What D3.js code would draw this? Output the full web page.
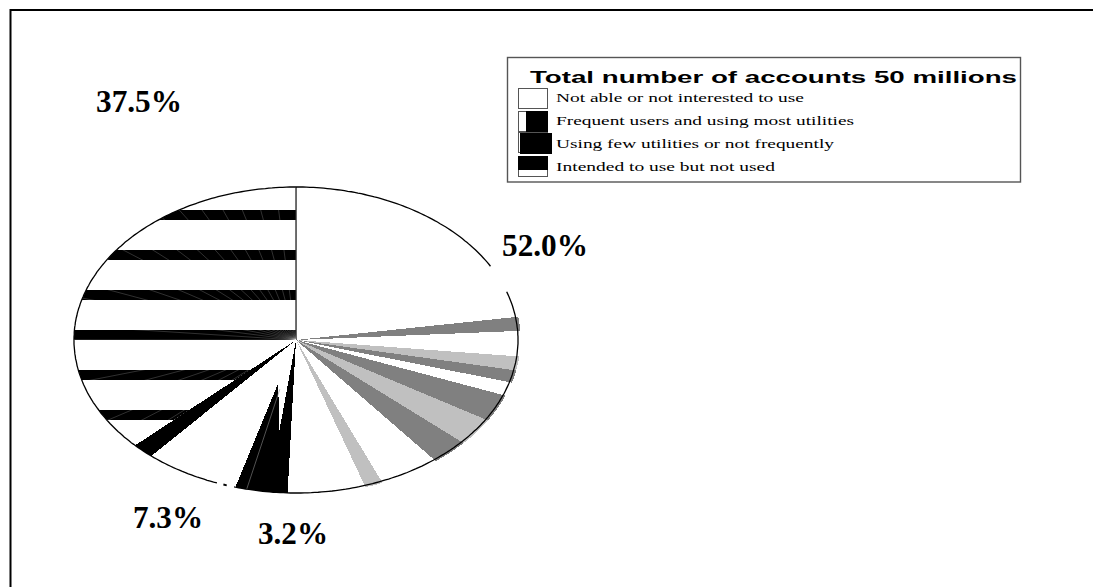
<!DOCTYPE html>
<html>
<head>
<meta charset="utf-8">
<script src="https://cdn.jsdelivr.net/npm/d3@7/dist/d3.min.js"></script>
<style>html,body{margin:0;padding:0;background:#fff}svg{display:block}</style>
</head>
<body>
<div id="chart"></div>
<script>
// Printed labels and the angular share each slice visibly takes in the picture
const sliceNames = ["Not able or not interested to use", "Using few utilities or not frequently", "Intended to use but not used", "Frequent users and using most utilities"];
const sliceLabels = ["52.0%", "3.2%", "7.3%", "37.5%"];
const sliceShares = [50.6, 3.8, 8.5, 37.1];
const stripeShare = 1.6;
// Shaded wedges inside the largest slice (percent of the circle, clockwise from 12 o'clock)
const bandStart = [22.6, 26.7, 28.15, 30.85, 33.7, 36.6, 43.7];
const bandEnd   = [24.05, 28.15, 29.45, 33.7, 36.6, 39.3, 45.0];
const bandTone  = ["dark", "light", "dark", "dark", "light", "dark", "light"];
// Notch inside the black slice: percent round the circle, fraction of the radius
const notchPercent = [52.0, 54.5];
const notchRadius  = [0.606, 0.286];
const hairlinePercent = 53.56;
const outlineStart = [0, 19.9, 55.8];
const outlineEnd   = [17.0, 54.5, 100];
const legendTitle = "Total number of accounts 50 millions";
const legendItems = ["Not able or not interested to use", "Frequent users and using most utilities", "Using few utilities or not frequently", "Intended to use but not used"];

const W = 1102, H = 587;
const svg = d3.select("#chart").append("svg").attr("width", W).attr("height", H);
const cx = 296, cy = 340, rx = 222, ry = 153;

// page frame: top and left rules only
svg.append("path").attr("d", `M10.5 ${H}V10H1093`).attr("fill", "none").attr("stroke", "#000").attr("stroke-width", 2);

const angle = d3.scaleLinear().domain([0, 100]).range([0, 2 * Math.PI]);
const tone = d3.scaleOrdinal().domain(["dark", "light"]).range(["#808080", "#c0c0c0"]);
const pieLayout = d3.pie().sort(null).value(d => d)(sliceShares);
const arc = d3.arc().innerRadius(0).outerRadius(1);
const unit = `translate(${cx},${cy}) scale(${rx},${ry})`;

const defs = svg.append("defs");
defs.append("clipPath").attr("id", "hatchClip").append("path")
  .attr("transform", unit).attr("d", arc(pieLayout[3]));

const pie = svg.append("g");
const disc = pie.append("g").attr("transform", unit);

// white base for the slices
disc.selectAll("path.slice").data(pieLayout).join("path")
  .attr("class", "slice").attr("d", arc).attr("fill", "#fff");

// shaded wedges, slightly overrunning the outline as in the original
disc.selectAll("path.band").data(bandStart).join("path")
  .attr("class", "band")
  .attr("d", (d, i) => d3.arc().innerRadius(0).outerRadius(1.012).startAngle(angle(d)).endAngle(angle(bandEnd[i]))())
  .attr("fill", (d, i) => tone(bandTone[i]))
  .attr("shape-rendering", "crispEdges");

// solid black slice with its white notch and hairline
disc.append("path").attr("d", arc(pieLayout[1])).attr("fill", "#000").attr("shape-rendering", "crispEdges");
const radial = d3.lineRadial().angle(d => d[0]).radius(d => d[1]);
disc.append("path")
  .attr("d", radial([[0, 0]].concat(notchPercent.map((p, i) => [angle(p), notchRadius[i]]))) + "Z")
  .attr("fill", "#fff").attr("shape-rendering", "crispEdges");
disc.append("path")
  .attr("d", radial([[angle(hairlinePercent), 0.33], [angle(hairlinePercent), 1]]))
  .attr("fill", "none").attr("stroke", "#8a8a8a").attr("stroke-width", 0.6)
  .attr("vector-effect", "non-scaling-stroke");

// black stripe along the edge of the third slice
const stripeEnd = pieLayout[2].endAngle;
disc.append("path")
  .attr("d", d3.arc().innerRadius(0).outerRadius(1).startAngle(stripeEnd - angle(stripeShare)).endAngle(stripeEnd)())
  .attr("fill", "#000").attr("shape-rendering", "crispEdges");

// horizontal hatch of the last slice
const hatch = pie.append("g").attr("clip-path", "url(#hatchClip)");
hatch.selectAll("rect").data(d3.range(210, 440, 40)).join("rect")
  .attr("x", cx - rx - 2).attr("y", d => d).attr("width", rx + 2).attr("height", 10)
  .attr("fill", "#000").attr("shape-rendering", "crispEdges");
const hair = hatch.append("g").attr("transform", unit);
hair.selectAll("path").data(d3.range(100, 62.9, -1.47)).join("path")
  .attr("d", d => radial([[angle(d), 0], [angle(d), 1]]))
  .attr("fill", "none").attr("stroke", "#fff").attr("stroke-opacity", 0.38).attr("stroke-width", 0.5)
  .attr("vector-effect", "non-scaling-stroke");

// 12 o'clock radius
disc.append("path").attr("d", radial([[0, 0], [0, 1]]))
  .attr("fill", "none").attr("stroke", "#000").attr("stroke-width", 1.2)
  .attr("vector-effect", "non-scaling-stroke");

// outline, broken where the original is
const outlinePoints = (a, b) => d3.range(a, b, 0.25).concat([b]).map(p => [angle(p), 1]);
disc.selectAll("path.outline").data(outlineStart).join("path")
  .attr("class", "outline")
  .attr("d", (d, i) => radial(outlinePoints(d, outlineEnd[i])))
  .attr("fill", "none").attr("stroke", "#000").attr("stroke-width", 1.3)
  .attr("vector-effect", "non-scaling-stroke");
disc.append("path").attr("d", radial(outlinePoints(55.05, 55.3)))
  .attr("fill", "none").attr("stroke", "#000").attr("stroke-width", 2)
  .attr("vector-effect", "non-scaling-stroke");

// percentage labels
const labelAnchor = [[502, 256], [258, 544], [133, 528], [96, 112]];
const labelWidth = [86, 70, 70, 86];
svg.selectAll("text.pct").data(sliceLabels).join("text")
  .attr("class", "pct")
  .attr("x", (d, i) => labelAnchor[i][0]).attr("y", (d, i) => labelAnchor[i][1])
  .attr("font-family", "'Liberation Serif', serif").attr("font-weight", "bold")
  .attr("font-size", 32).attr("textLength", (d, i) => labelWidth[i]).attr("lengthAdjust", "spacingAndGlyphs")
  .attr("fill", "#000").text(d => d);

// legend
const lg = svg.append("g");
lg.append("rect").attr("x", 507.5).attr("y", 57.5).attr("width", 513).attr("height", 124.5)
  .attr("fill", "#fff").attr("stroke", "#555").attr("stroke-width", 1.4);
lg.append("text").attr("x", 530).attr("y", 83)
  .attr("font-family", "'Liberation Sans', sans-serif").attr("font-weight", "bold")
  .attr("font-size", 17).attr("textLength", 487).attr("lengthAdjust", "spacingAndGlyphs")
  .attr("fill", "#000").text(legendTitle);

const rowTop = d3.scalePoint().domain(legendItems).range([88, 156]);
const rowText = d3.scalePoint().domain(legendItems).range([102, 171]);
const textWidths = [248, 298, 278, 219];
const swatchH = 20, swatchW = 29;
legendItems.forEach((name, i) => {
  const y = rowTop(name) + (i === 2 ? -1 : 0);
  const s = lg.append("g").attr("shape-rendering", "crispEdges");
  s.append("rect").attr("x", 518.5).attr("y", y + 0.5).attr("width", swatchW).attr("height", swatchH)
    .attr("fill", "#fff").attr("stroke", "#555");
  if (i === 1) s.append("rect").attr("x", 526).attr("y", y).attr("width", 22).attr("height", swatchH + 1).attr("fill", "#000");
  if (i === 2) s.append("rect").attr("x", 520).attr("y", y + 1).attr("width", 32).attr("height", swatchH + 1).attr("fill", "#000");
  if (i === 3) s.append("rect").attr("x", 518).attr("y", y).attr("width", 30).attr("height", 14).attr("fill", "#000");
  lg.append("text").attr("x", 556).attr("y", rowText(name))
    .attr("font-family", "'Liberation Serif', serif").attr("font-size", 13.5)
    .attr("textLength", textWidths[i]).attr("lengthAdjust", "spacingAndGlyphs")
    .attr("fill", "#000").text(name);
});
</script>
</body>
</html>
